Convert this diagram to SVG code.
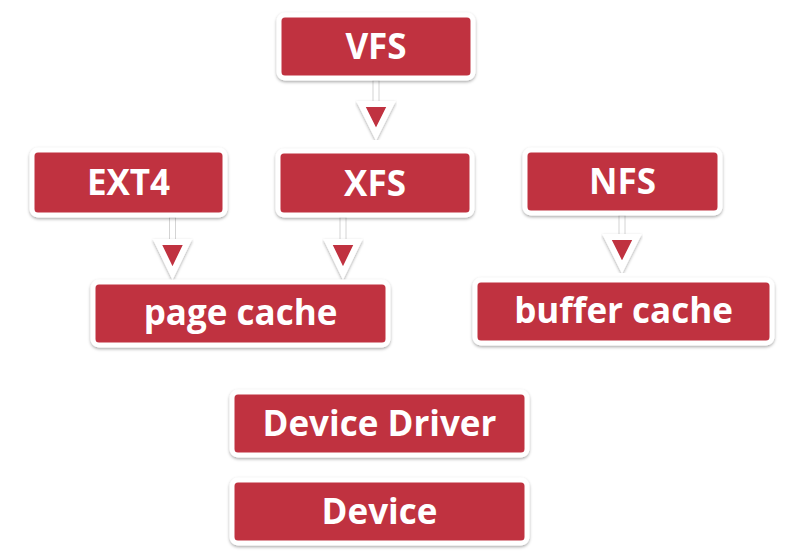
<svg xmlns="http://www.w3.org/2000/svg" width="789" height="552" viewBox="0 0 789 552">
<defs>
<filter id="sh" x="-20%" y="-20%" width="140%" height="140%">
<feDropShadow dx="0" dy="1.5" stdDeviation="1.5" flood-color="#000" flood-opacity="0.35"/>
</filter>
<style>
.box{fill:#c0313f;stroke:#fff;stroke-width:5;filter:url(#sh)}
.lbl{fill:#fff;font-family:"Open Sans","Noto Sans",sans-serif;font-weight:bold;font-size:35px;text-anchor:middle}
.stem{fill:#fff;stroke:#d4d4d4;stroke-width:1}
.tri{fill:#c0313f;stroke:#fff;stroke-width:6;stroke-linejoin:miter;filter:url(#sh)}
</style>
</defs>
<rect width="789" height="552" fill="#fff"/>
<g id="connectors">
<rect class="stem" x="373" y="80" width="6" height="24"/>
<polygon class="tri" points="361,104 391,104 376,134"/>
<rect class="stem" x="169.5" y="217" width="6" height="25"/>
<polygon class="tri" points="157.5,242 187.5,242 172.5,273"/>
<rect class="stem" x="340" y="217" width="6" height="25"/>
<polygon class="tri" points="328,242 358,242 343,273"/>
<rect class="stem" x="619" y="215" width="6" height="22"/>
<polygon class="tri" points="607,237 637,237 622,267"/>
</g>
<g id="vfs"><rect class="box" x="279" y="15" width="194" height="63" rx="6"/><text class="lbl" x="376" y="59">VFS</text></g>
<g id="ext4"><rect class="box" x="32" y="150" width="193" height="65" rx="6"/><text class="lbl" x="128.5" y="195">EXT4</text></g>
<g id="xfs"><rect class="box" x="278" y="151" width="194" height="64" rx="6"/><text class="lbl" x="375" y="196">XFS</text></g>
<g id="nfs"><rect class="box" x="525" y="150" width="195" height="63" rx="6"/><text class="lbl" x="622.5" y="194">NFS</text></g>
<g id="pagecache"><rect class="box" x="93" y="282" width="295" height="63" rx="6"/><text class="lbl" x="240.5" y="325">page cache</text></g>
<g id="buffercache"><rect class="box" x="475" y="280" width="297" height="63" rx="6"/><text class="lbl" x="623.5" y="323">buffer cache</text></g>
<g id="devicedriver"><rect class="box" x="232" y="392" width="295" height="63" rx="6"/><text class="lbl" x="379.5" y="436">Device Driver</text></g>
<g id="device"><rect class="box" x="232" y="480" width="295" height="63" rx="6"/><text class="lbl" x="379.5" y="524">Device</text></g>
</svg>
